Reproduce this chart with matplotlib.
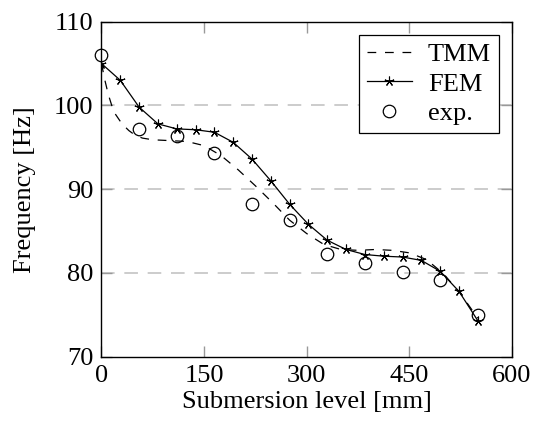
import matplotlib
matplotlib.use("Agg")
import matplotlib.pyplot as plt

# Data
tmm_x = [0, 5, 10, 15, 20, 30, 40, 50, 60, 75, 100, 125, 150, 175, 200, 225,
         250, 275, 300, 325, 350, 375, 400, 425, 450, 475, 500, 525, 550]
tmm_y = [105.0, 103.0, 101.3, 100.0, 99.0, 97.8, 97.0, 96.4, 96.1, 95.9, 95.8,
         95.7, 95.2, 94.0, 92.3, 90.4, 88.4, 86.3, 84.7, 83.4, 82.8, 82.7, 82.8,
         82.7, 82.4, 81.6, 79.9, 77.5, 74.6]

fem_x = [0, 27.5, 55, 82.5, 110, 137.5, 165, 192.5, 220, 247.5, 275, 302.5,
         330, 357.5, 385, 412.5, 440, 467.5, 495, 522.5, 550]
fem_y = [105.0, 103.0, 99.8, 97.8, 97.2, 97.1, 96.8, 95.6, 93.6, 91.0, 88.2,
         85.8, 83.9, 82.8, 82.2, 82.0, 81.9, 81.5, 80.2, 77.8, 74.3]

exp_x = [0, 55, 110, 165, 220, 275, 330, 385, 440, 495, 550]
exp_y = [106.0, 97.2, 96.4, 94.3, 88.2, 86.3, 82.3, 81.2, 80.1, 79.2, 75.0]

x_ticks = [0, 150, 300, 450, 600]
y_ticks = [70, 80, 90, 100, 110]

FS = 19

plt.rcParams['font.family'] = ['Liberation Serif', 'DejaVu Serif']

fig = plt.figure(figsize=(5.33, 4.28), dpi=100)
ax = fig.add_axes([0.1904, 0.1666, 0.9606 - 0.1904, 0.9493 - 0.1666])

ax.plot(tmm_x, tmm_y, color='black', lw=0.9, linestyle=(0, (7, 7)), label='TMM')
ax.plot(fem_x, fem_y, color='black', lw=0.9, marker=(5, 2, 0), markersize=7,
        markeredgewidth=0.8, label='FEM')
ax.plot(exp_x, exp_y, linestyle='none', marker='o', markersize=9,
        markerfacecolor='none', markeredgecolor='black', markeredgewidth=0.9,
        label='exp.', clip_on=False)

ax.set_xlim(0, 600)
ax.set_ylim(70, 110)
ax.set_xticks(x_ticks)
ax.set_yticks(y_ticks)

# horizontal dashed grid only
for yv in y_ticks[1:-1]:
    ax.axhline(yv, color='#cccccc', lw=1.4, linestyle=(0, (7, 5)), zorder=0)

ax.tick_params(direction='in', length=8, width=1.0, color='#999999',
               top=True, right=True, labelsize=FS, pad=6)
for s in ax.spines.values():
    s.set_linewidth(1.0)
    s.set_color('black')

ax.set_xlabel('Submersion level [mm]', fontsize=FS, labelpad=3)
ax.set_ylabel('Frequency [Hz]', fontsize=FS, labelpad=13)

leg = ax.legend(loc='upper right', fontsize=FS, frameon=True, fancybox=False,
                edgecolor='black', framealpha=1, handlelength=1.7,
                labelspacing=0.22, borderpad=0.3, handletextpad=0.6,
                borderaxespad=0.5)
leg.get_frame().set_linewidth(0.9)

fig.savefig('out.png', dpi=100)
